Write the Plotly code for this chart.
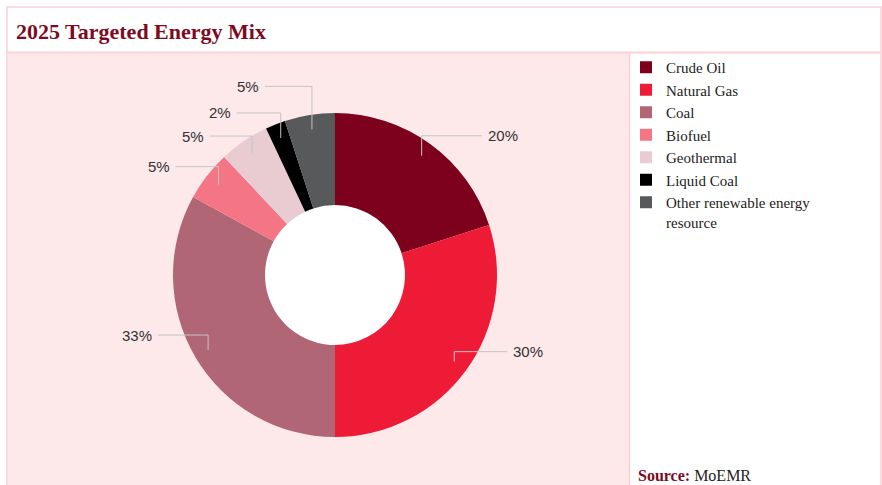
import math
import plotly.graph_objects as go

# ---- data ----
labels = ["Crude Oil", "Natural Gas", "Coal", "Biofuel", "Geothermal",
          "Liquid Coal", "Other renewable energy resource"]
values = [20, 30, 33, 5, 5, 2, 5]
legend_names = ["Crude Oil", "Natural Gas", "Coal", "Biofuel", "Geothermal",
                "Liquid Coal", "Other renewable energy<br>resource"]

# ---- style ----
colors = ["#7d001c", "#ee1b37", "#b06674", "#f47685", "#e8ccd1", "#000000", "#58595b"]
leader_rise = [20, 10, 15, 18, 17, 25, 43]
leader_run = [60, 53, 50, 43, 42, 44, 47]

W, H = 882, 485
CX, CY, R, R_IN = 335, 275, 162, 70
PINK_BG = "#fde8ea"
BORDER = "#fbd0d7"
DARK_RED = "#7d0a1e"


def px(x):
    return x / W


def py(y):
    return 1 - y / H


fig = go.Figure()
fig.add_trace(go.Pie(
    labels=legend_names, values=values, sort=False, direction="clockwise",
    rotation=0, hole=R_IN / R, textinfo="none",
    marker=dict(colors=colors, line=dict(width=0)),
    domain=dict(x=[px(CX - R), px(CX + R)], y=[py(CY + R), py(CY - R)]),
    hovertemplate="%{label}: %{value}%<extra></extra>",
))

shapes = [
    dict(type="rect", xref="paper", yref="paper", x0=px(7), x1=px(881), y0=py(490), y1=py(7),
         line=dict(color=BORDER, width=1.5), fillcolor="white", layer="below"),
    dict(type="rect", xref="paper", yref="paper", x0=px(8), x1=px(629), y0=py(490), y1=py(53),
         line=dict(width=0), fillcolor=PINK_BG, layer="below"),
    dict(type="line", xref="paper", yref="paper", x0=px(7), x1=px(881), y0=py(52.5), y1=py(52.5),
         line=dict(color=BORDER, width=2), layer="below"),
    dict(type="line", xref="paper", yref="paper", x0=px(629.5), x1=px(629.5), y0=py(490), y1=py(53),
         line=dict(color=BORDER, width=1.5), layer="below"),
    dict(type="circle", xref="paper", yref="paper", x0=px(CX - R_IN), x1=px(CX + R_IN),
         y0=py(CY + R_IN), y1=py(CY - R_IN), line=dict(width=0), fillcolor="white", layer="below"),
]

annotations = [
    dict(text="<b>2025 Targeted Energy Mix</b>", xref="paper", yref="paper",
         x=px(14), y=py(32), xanchor="left", yanchor="middle", showarrow=False,
         font=dict(family="Liberation Serif", size=22, color=DARK_RED)),
    dict(text=f"<b><span style='color:{DARK_RED}'>Source:</span></b> MoEMR", xref="paper", yref="paper",
         x=px(636), y=py(475), xanchor="left", yanchor="middle", showarrow=False,
         font=dict(family="Liberation Serif", size=16, color="#222222")),
]

total = sum(values)
cum = 0
for v, rise, run in zip(values, leader_rise, leader_run):
    theta = 2 * math.pi * (cum + v / 2) / total
    cum += v
    r0 = R * 0.91
    x0 = CX + r0 * math.sin(theta)
    y0 = CY - r0 * math.cos(theta)
    y1 = y0 - rise
    side = 1 if math.sin(theta) >= 0 else -1
    x1 = x0 + side * run
    shapes.append(dict(type="path", xref="paper", yref="paper",
                       path=f"M {px(x0)} {py(y0)} L {px(x0)} {py(y1)} L {px(x1)} {py(y1)}",
                       line=dict(color="#c4c4c4", width=1)))
    annotations.append(dict(text=f"{v}%", xref="paper", yref="paper",
                            x=px(x1 + side * 4), y=py(y1), xanchor="left" if side > 0 else "right",
                            yanchor="middle", showarrow=False,
                            font=dict(family="Liberation Sans", size=15, color="#333333")))

fig.update_layout(
    width=W, height=H, margin=dict(l=0, r=0, t=0, b=0),
    paper_bgcolor="white", plot_bgcolor="white",
    shapes=shapes, annotations=annotations,
    showlegend=True,
    legend=dict(x=px(626), y=py(51), xanchor="left", yanchor="top",
                font=dict(family="Liberation Serif", size=15, color="#222222"),
                bgcolor="rgba(0,0,0,0)", valign="top", tracegroupgap=0),
)

fig.write_html(
    "out.html",
    config={"displayModeBar": False},
    post_script="document.body.style.margin='0';document.documentElement.style.overflow='hidden';",
)
